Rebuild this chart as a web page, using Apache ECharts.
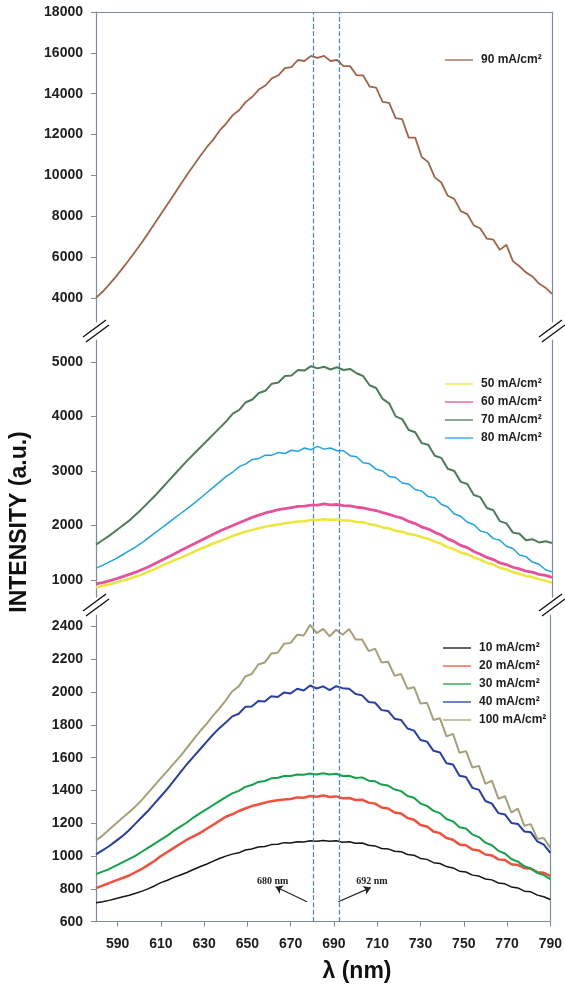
<!DOCTYPE html>
<html>
<head>
<meta charset="utf-8">
<title>Intensity vs wavelength</title>
<script src="https://cdn.jsdelivr.net/npm/echarts@6/dist/echarts.min.js"></script>
<style>
html, body { margin: 0; padding: 0; background: #fff; }
#chart { width: 565px; height: 987px; }
</style>
</head>
<body>
<div id="chart"></div>
<script>
// wavelength (nm), shared by every curve
var wavelengths = [
    580, 583, 586, 589, 592, 595, 598, 601, 604, 607,
    610, 613, 616, 619, 622, 625, 628, 631, 634, 637,
    640, 643, 646, 649, 652, 655, 658, 661, 664, 667,
    670, 673, 676, 679, 682, 685, 688, 691, 694, 697,
    700, 703, 706, 709, 712, 715, 718, 721, 724, 727,
    730, 733, 736, 739, 742, 745, 748, 751, 754, 757,
    760, 763, 766, 769, 772, 775, 778, 781, 784, 787,
    790
];

// top panel
var ma90 = [
    4000, 4300, 4650, 5020, 5420, 5830, 6260, 6700, 7160, 7640,
    8120, 8600, 9080, 9560, 10040, 10500, 10950, 11380, 11750, 12200,
    12550, 12950, 13200, 13600, 13850, 14200, 14400, 14750, 14900, 15250,
    15300, 15650, 15600, 15850, 15750, 15850, 15600, 15650, 15350, 15350,
    14900, 14900, 14350, 14300, 13600, 13550, 12800, 12750, 11850, 11850,
    10900, 10650, 9900, 9650, 9000, 8850, 8250, 8100, 7550, 7400,
    6900, 6850, 6350, 6600, 5800, 5550, 5250, 5050, 4700, 4500,
    4200
];

// middle panel
var ma50 = [
    870, 895, 920, 950, 985, 1020, 1060, 1100, 1150, 1200,
    1255, 1310, 1360, 1410, 1460, 1515, 1570, 1620, 1670, 1715,
    1760, 1810, 1850, 1890, 1920, 1950, 1980, 2000, 2020, 2040,
    2055, 2075, 2080, 2100, 2100, 2115, 2105, 2110, 2090, 2090,
    2065, 2060, 2025, 2005, 1965, 1945, 1905, 1885, 1845, 1825,
    1785, 1755, 1705, 1665, 1605, 1565, 1505, 1475, 1415, 1375,
    1315, 1285, 1225, 1195, 1145, 1115, 1075, 1055, 1015, 990,
    950
];
var ma60 = [
    930, 955, 985, 1020, 1060, 1100, 1140, 1190, 1240, 1300,
    1360, 1420, 1480, 1540, 1600, 1660, 1720, 1780, 1840, 1900,
    1950, 2000, 2050, 2100, 2150, 2190, 2230, 2260, 2290, 2310,
    2330, 2350, 2355, 2375, 2375, 2395, 2380, 2385, 2365, 2360,
    2335, 2325, 2295, 2275, 2235, 2205, 2165, 2135, 2075, 2035,
    1975, 1935, 1875, 1825, 1755, 1705, 1635, 1595, 1525, 1475,
    1415, 1375, 1315, 1285, 1235, 1205, 1165, 1145, 1105, 1085,
    1050
];
var ma70 = [
    1650, 1730, 1810, 1900, 1990, 2080, 2190, 2300, 2420, 2540,
    2670, 2800, 2930, 3060, 3190, 3310, 3430, 3550, 3670, 3790,
    3910, 4050, 4120, 4260, 4310, 4430, 4470, 4600, 4620, 4740,
    4750, 4850, 4840, 4920, 4880, 4910, 4860, 4900, 4850, 4870,
    4790, 4740, 4570, 4520, 4320, 4240, 4000, 3950, 3750, 3710,
    3510, 3480, 3280, 3240, 3040, 3000, 2800, 2760, 2560, 2520,
    2320, 2280, 2080, 2040, 1870, 1850, 1730, 1750, 1690, 1710,
    1680
];
var ma80 = [
    1220, 1270, 1330, 1390, 1460, 1530, 1600, 1680, 1770, 1860,
    1950, 2040, 2130, 2220, 2310, 2400, 2500, 2600, 2700, 2800,
    2900, 2980, 3080, 3130, 3210, 3230, 3290, 3290, 3340, 3320,
    3380, 3360, 3420, 3390, 3450, 3400, 3420, 3370, 3370, 3280,
    3260, 3150, 3130, 3030, 3000, 2900, 2880, 2780, 2760, 2660,
    2630, 2530, 2510, 2390, 2340, 2210, 2170, 2060, 2020, 1900,
    1870, 1760, 1730, 1620, 1580, 1460, 1430, 1330, 1290, 1190,
    1150
];

// bottom panel
var ma10 = [
    715, 722, 730, 740, 750, 760, 772, 785, 800, 818,
    838, 853, 870, 885, 900, 918, 935, 950, 968, 985,
    1000, 1012, 1020, 1037, 1043, 1055, 1058, 1070, 1072, 1082,
    1080, 1088, 1086, 1093, 1090, 1095, 1090, 1094, 1085, 1088,
    1078, 1080, 1066, 1062, 1046, 1044, 1030, 1027, 1010, 1005,
    986, 980, 960, 955, 936, 928, 908, 903, 884, 878,
    860, 855, 836, 831, 812, 806, 786, 782, 762, 752,
    735
];
var ma20 = [
    805, 820, 835, 850, 865, 880, 900, 920, 945, 970,
    1000, 1025, 1050, 1075, 1100, 1120, 1140, 1165, 1190, 1215,
    1240, 1255, 1275, 1290, 1305, 1315, 1325, 1335, 1340, 1345,
    1348, 1358, 1356, 1366, 1362, 1370, 1360, 1364, 1352, 1354,
    1342, 1344, 1326, 1320, 1296, 1290, 1266, 1260, 1232, 1222,
    1190, 1180, 1150, 1140, 1110, 1100, 1070, 1066, 1040, 1034,
    1010, 1004, 980, 976, 950, 946, 926, 924, 902, 898,
    880
];
var ma30 = [
    890, 905, 920, 940, 960, 980, 1000, 1025, 1050, 1075,
    1100, 1125, 1155, 1180, 1205, 1235, 1260, 1285, 1310, 1335,
    1360, 1382, 1398, 1422, 1433, 1452, 1458, 1474, 1478, 1488,
    1488, 1498, 1496, 1504, 1498, 1505, 1497, 1502, 1488, 1490,
    1476, 1480, 1460, 1456, 1436, 1430, 1406, 1396, 1366, 1356,
    1320, 1306, 1276, 1262, 1226, 1212, 1176, 1168, 1132, 1116,
    1082, 1066, 1032, 1016, 982, 966, 938, 924, 898, 884,
    860
];
var ma40 = [
    1010, 1035, 1060, 1090, 1120, 1155, 1195, 1235, 1275, 1320,
    1365, 1410, 1460, 1510, 1560, 1605, 1650, 1695, 1740, 1780,
    1815, 1852, 1868, 1910, 1912, 1945, 1942, 1975, 1970, 1998,
    1992, 2020, 2010, 2040, 2022, 2035, 2012, 2036, 2024, 2020,
    1988, 1980, 1940, 1935, 1890, 1885, 1838, 1830, 1778, 1765,
    1708, 1698, 1642, 1632, 1566, 1558, 1490, 1482, 1416, 1404,
    1336, 1320, 1262, 1254, 1202, 1196, 1150, 1145, 1090, 1070,
    1020
];
var ma100 = [
    1095, 1125, 1160, 1195, 1230, 1265, 1300, 1340, 1385, 1430,
    1475, 1520, 1565, 1610, 1660, 1710, 1760, 1805, 1855, 1900,
    1950, 2005, 2035, 2095, 2110, 2168, 2180, 2235, 2240, 2295,
    2300, 2350, 2345, 2410, 2360, 2385, 2340, 2380, 2350, 2385,
    2320, 2320, 2250, 2265, 2180, 2185, 2100, 2110, 2020, 2030,
    1930, 1935, 1830, 1840, 1730, 1745, 1630, 1640, 1540, 1550,
    1440, 1460, 1350, 1365, 1265, 1290, 1185, 1195, 1105, 1110,
    1050
];

// tick labels
var xTicks = [590, 610, 630, 650, 670, 690, 710, 730, 750, 770, 790];
var yTicksTop = [4000, 6000, 8000, 10000, 12000, 14000, 16000, 18000];
var yTicksMid = [1000, 2000, 3000, 4000, 5000];
var yTicksBot = [600, 800, 1000, 1200, 1400, 1600, 1800, 2000, 2200, 2400];

// guide wavelengths (dashed lines)
var guideLines = [680, 692];

(function () {
    var axisColor = '#7a8ea0';
    var guideColor = '#3d8ac2';
    var font = '"Liberation Sans", Arial, sans-serif';
    var plain = function (v) { return String(v); };

    function pairs(values) {
        return wavelengths.map(function (w, i) { return [w, values[i]]; });
    }
    // one spectrum curve
    function curve(name, values, color, width, idx) {
        return {
            type: 'line', name: name, data: pairs(values),
            xAxisIndex: idx, yAxisIndex: idx,
            symbol: 'none', showSymbol: false, z: 3,
            lineStyle: { color: color, width: width },
            itemStyle: { color: color }
        };
    }
    function leftAxis(grid, min, max, ticks) {
        return {
            type: 'value', gridIndex: grid, position: 'left', min: min, max: max,
            splitLine: { show: false },
            axisLine: { show: true, onZero: false, lineStyle: { color: axisColor, width: 1.2 } },
            axisTick: { show: true, length: 5, customValues: ticks, lineStyle: { color: axisColor } },
            axisLabel: { customValues: ticks, formatter: plain, margin: 13, color: '#1e1e1e', fontSize: 14, fontWeight: 'bold', fontFamily: font }
        };
    }
    function rightAxis(grid, min, max) {
        return {
            type: 'value', gridIndex: grid, position: 'right', min: min, max: max,
            splitLine: { show: false }, axisTick: { show: false }, axisLabel: { show: false },
            axisLine: { show: true, onZero: false, lineStyle: { color: axisColor, width: 1.2 } }
        };
    }
    // legend with a plain line as the key
    function legendBox(names, left, top) {
        return {
            data: names, left: left, top: top, orient: 'vertical',
            icon: 'rect', itemWidth: 28, itemHeight: 2, itemGap: 4,
            itemStyle: { opacity: 0.65 },
            textStyle: { color: '#1e1e1e', fontSize: 12, fontWeight: 'bold', fontFamily: font, lineHeight: 14, padding: [0, 0, 0, 3] }
        };
    }
    // the "//" axis break marks
    function breakMark(cx, cy) {
        var st = { stroke: '#111', lineWidth: 1.4 };
        return [
            { type: 'line', shape: { x1: cx - 13, y1: cy + 6, x2: cx + 10, y2: cy - 11 }, style: st, z: 10 },
            { type: 'line', shape: { x1: cx - 10, y1: cy + 11, x2: cx + 13, y2: cy - 6 }, style: st, z: 10 }
        ];
    }

    var names = {
        m10: '10 mA/cm²', m20: '20 mA/cm²', m30: '30 mA/cm²', m40: '40 mA/cm²',
        m50: '50 mA/cm²', m60: '60 mA/cm²', m70: '70 mA/cm²', m80: '80 mA/cm²',
        m90: '90 mA/cm²', m100: '100 mA/cm²'
    };

    var arrowSeries = curve(names.m10, ma10, '#141414', 1.5, 2);
    arrowSeries.markLine = {
        silent: true, symbol: ['none', 'arrow'], symbolSize: 7,
        label: { show: false },
        lineStyle: { color: '#222', type: 'solid', width: 1.2 },
        data: [
            [{ coord: [677.5, 722] }, { coord: [663, 813] }],
            [{ coord: [692, 722] }, { coord: [707, 808] }]
        ]
    };
    arrowSeries.markPoint = {
        silent: true, symbol: 'circle', symbolSize: 0,
        label: { show: true, position: 'inside', formatter: function (p) { return p.name; }, color: '#222', fontSize: 10, fontWeight: 'bold', fontFamily: '"Liberation Serif", "Times New Roman", serif' },
        data: [
            { name: '680 nm', coord: [661.7, 846] },
            { name: '692 nm', coord: [707.5, 846] }
        ]
    };

    var graphic = [
        { type: 'text', x: 20, y: 522, rotation: Math.PI / 2,
          style: { text: 'INTENSITY (a.u.)', font: 'bold 23px ' + font, fill: '#111', textAlign: 'center', textVerticalAlign: 'middle', align: 'center', verticalAlign: 'middle' } },
        { type: 'text', x: 357, y: 972,
          style: { text: 'λ (nm)', font: 'bold 23px ' + font, fill: '#111', textAlign: 'center', textVerticalAlign: 'middle', align: 'center', verticalAlign: 'middle' } }
    ]
        .concat(breakMark(96, 331)).concat(breakMark(552, 331))
        .concat(breakMark(96, 605)).concat(breakMark(552, 605));

    var option = {
        animation: false,
        backgroundColor: '#fff',
        grid: [
            { left: 96, right: 13, top: 12, height: 310 },
            { left: 96, right: 13, top: 340, height: 257 },
            { left: 96, right: 13, top: 615, height: 306.7 },
            { left: 96, right: 13, top: 12, height: 909.7 }
        ],
        xAxis: [
            { type: 'value', gridIndex: 0, min: 580, max: 790, position: 'top',
              axisLine: { show: true, onZero: false, lineStyle: { color: axisColor, width: 1.2 } },
              axisTick: { show: false }, axisLabel: { show: false }, splitLine: { show: false } },
            { type: 'value', gridIndex: 1, min: 580, max: 790, show: false },
            { type: 'value', gridIndex: 2, min: 580, max: 790, position: 'bottom',
              axisLine: { show: true, onZero: false, lineStyle: { color: axisColor, width: 1.2 } },
              axisTick: { show: true, length: 5, customValues: xTicks, lineStyle: { color: axisColor } },
              axisLabel: { customValues: xTicks, formatter: plain, margin: 15, color: '#1e1e1e', fontSize: 14, fontWeight: 'bold', fontFamily: font },
              splitLine: { show: false } },
            { type: 'value', gridIndex: 3, min: 580, max: 790, show: false }
        ],
        yAxis: [
            leftAxis(0, 2820, 18000, yTicksTop),
            leftAxis(1, 690, 5400, yTicksMid),
            leftAxis(2, 600, 2470, yTicksBot),
            { type: 'value', gridIndex: 3, min: 0, max: 1, show: false },
            rightAxis(0, 2820, 18000),
            rightAxis(1, 690, 5400),
            rightAxis(2, 600, 2470)
        ],
        legend: [
            legendBox([names.m90], 440, 48),
            legendBox([names.m50, names.m60, names.m70, names.m80], 440, 372),
            legendBox([names.m10, names.m20, names.m30, names.m40, names.m100], 438, 636)
        ],
        graphic: graphic,
        series: [
            curve(names.m90, ma90, '#a0644a', 1.8, 0),
            curve(names.m50, ma50, '#ece63a', 2.5, 1),
            curve(names.m60, ma60, '#e8509a', 2.8, 1),
            curve(names.m70, ma70, '#4e7b5b', 2, 1),
            curve(names.m80, ma80, '#1ea3e6', 1.5, 1),
            arrowSeries,
            curve(names.m20, ma20, '#f2503c', 2.5, 2),
            curve(names.m30, ma30, '#12a24a', 2, 2),
            curve(names.m40, ma40, '#283ea6', 2, 2),
            curve(names.m100, ma100, '#a6a078', 2, 2),
            // dashed guides through all three panels
            { type: 'line', name: 'guides', xAxisIndex: 3, yAxisIndex: 3, data: [], silent: true,
              itemStyle: { color: guideColor }, lineStyle: { color: guideColor },
              markLine: {
                  silent: true, symbol: ['none', 'none'], label: { show: false },
                  itemStyle: { color: guideColor },
                  lineStyle: { color: guideColor, type: 'dashed', width: 1.2, opacity: 1 },
                  emphasis: { disabled: true },
                  data: guideLines.map(function (w) { return { xAxis: w }; })
              } }
        ]
    };

    var myChart = echarts.init(document.getElementById('chart'));
    myChart.setOption(option);
})();
</script>
</body>
</html>
